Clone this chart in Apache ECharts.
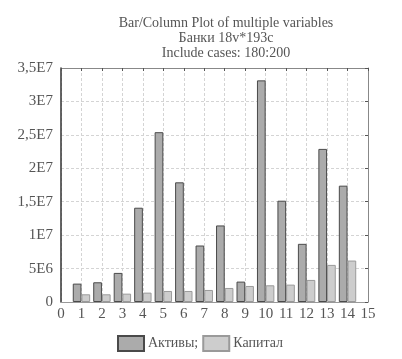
<!DOCTYPE html>
<html><head><meta charset="utf-8">
<script src="https://cdn.jsdelivr.net/npm/echarts@6/dist/echarts.min.js"></script>
<style>html,body{margin:0;padding:0;background:#fff}#c{width:402px;height:359px}</style>
</head><body><div id="c"></div>
<script>
const categories = [1,2,3,4,5,6,7,8,9,10,11,12,13,14];
const aktivy = [2.75e6,2.95e6,4.35e6,14.1e6,25.4e6,17.9e6,8.45e6,11.45e6,3.05e6,33.15e6,15.15e6,8.7e6,22.9e6,17.4e6];
const kapital = [1.15e6,1.15e6,1.25e6,1.4e6,1.65e6,1.65e6,1.8e6,2.1e6,2.4e6,2.5e6,2.6e6,3.3e6,5.55e6,6.2e6];
const yTickLabels = ['0','5E6','1E7','1,5E7','2E7','2,5E7','3E7','3,5E7'];
const titleLines = ['Bar/Column Plot of multiple variables','Банки 18v*193c','Include cases: 180:200'];
const seriesNames = ['Активы','Капитал'];
const legendLabels = {'Активы':'Активы;','Капитал':'Капитал'};

const font = 'Liberation Serif';
const chart = echarts.init(document.getElementById('c'), null, {renderer:'canvas'});
const dash = {color:'#d4d4d4', type:[3,2], width:1};
chart.setOption({
  backgroundColor:'#fff',
  animation:false,
  title:{text:titleLines.join('\n'), left:221, textAlign:'center', top:11,
    textStyle:{fontFamily:font, fontSize:14, fontWeight:'normal', color:'#555', lineHeight:15}},
  legend:{top:330, left:112, itemWidth:26, itemHeight:15, itemGap:4, icon:'rect',
    textStyle:{fontFamily:font, fontSize:14, color:'#555', padding:[0,0,0,-1]},
    formatter:n=>legendLabels[n], data:seriesNames},
  grid:{left:61, right:34, top:68, bottom:57, show:false},
  xAxis:[{type:'value', min:0, max:15, interval:1,
    axisLine:{show:true, lineStyle:{color:'#999', width:1}},
    axisTick:{show:false},
    axisLabel:{fontFamily:font, fontSize:15, color:'#555', margin:5},
    splitLine:{show:true, lineStyle:dash}},
   {type:'value', min:0, max:15, interval:1, position:'top',
    axisLine:{show:true, onZero:false, lineStyle:{color:'#888', width:1}},
    axisTick:{show:true, inside:true, length:3, lineStyle:{color:'#555'}},
    axisLabel:{show:false}, splitLine:{show:false}}],
  yAxis:[{type:'value', min:0, max:3.5e7, interval:5e6,
    axisLine:{show:true, lineStyle:{color:'#333', width:1.5}},
    axisTick:{show:false},
    axisLabel:{fontFamily:font, fontSize:15, color:'#555', margin:8,
      formatter:v=>yTickLabels[Math.round(v/5e6)]},
    splitLine:{show:true, lineStyle:dash}},
   {type:'value', min:0, max:3.5e7, interval:5e6, position:'right',
    axisLine:{show:true, onZero:false, lineStyle:{color:'#888', width:1}},
    axisTick:{show:true, inside:true, length:3, lineStyle:{color:'#555'}},
    axisLabel:{show:false}, splitLine:{show:false}}],
  series:[
    {name:seriesNames[0], type:'bar', barWidth:8.7, barGap:'0%',
     data:categories.map((c,i)=>[c,aktivy[i]]),
     itemStyle:{color:'#ababab', borderColor:'#4a4a4a', borderWidth:1}},
    {name:seriesNames[1], type:'bar', barWidth:8.7, barGap:'0%',
     data:categories.map((c,i)=>[c,kapital[i]]),
     itemStyle:{color:'#cdcdcd', borderColor:'#9a9a9a', borderWidth:1}}
  ]
});
</script></body></html>
